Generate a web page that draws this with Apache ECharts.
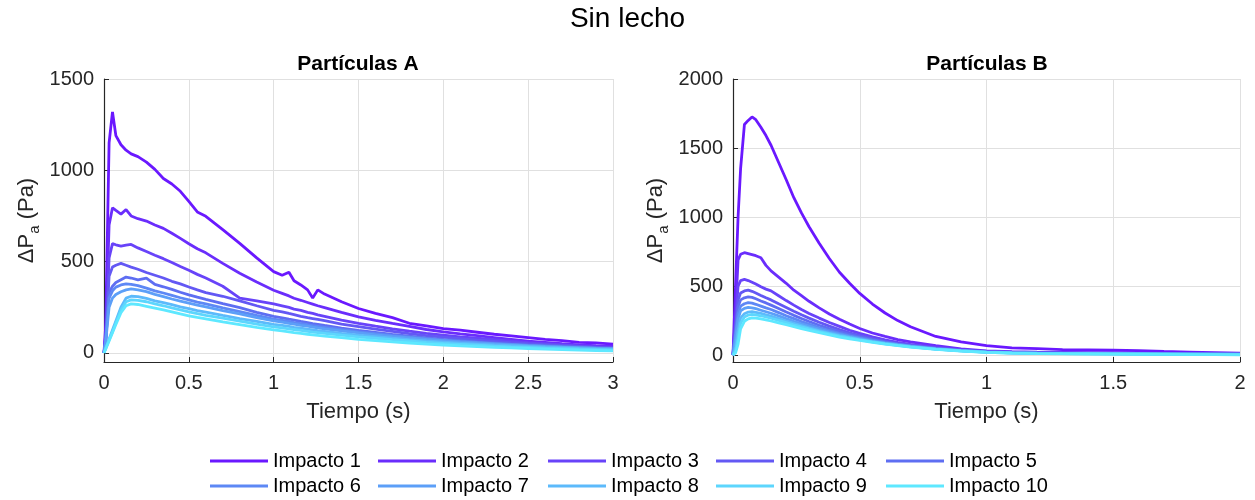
<!DOCTYPE html>
<html>
<head>
<meta charset="utf-8">
<script src="https://cdn.jsdelivr.net/npm/echarts@6/dist/echarts.min.js"></script>
<style>
  html, body { margin: 0; padding: 0; background: #fff; }
  #chart { width: 1255px; height: 500px; }
</style>
</head>
<body>
<div id="chart"></div>
<script>
// Pressure drop ΔP_a (Pa) after each impact, sampled over time (s).

// ---- Partículas A ----
const tiempoA = [0, 0.01, 0.03, 0.05, 0.07, 0.1, 0.13, 0.16, 0.2, 0.25, 0.3, 0.35, 0.4, 0.45, 0.5, 0.55, 0.6, 0.7, 0.8, 0.9,
  1.0, 1.05, 1.09, 1.12, 1.16, 1.2, 1.23, 1.26, 1.3, 1.4, 1.5, 1.6, 1.7, 1.8, 1.9, 2.0, 2.1, 2.2, 2.3, 2.4, 2.5, 2.6, 2.7, 2.8, 2.9, 3.0];
const impactoA1 = [0, 150, 1150, 1320, 1190, 1140, 1110, 1090, 1075, 1045, 1005, 955, 925, 885, 830, 772, 748, 675, 600, 520,
  445, 425, 442, 395, 372, 345, 300, 345, 322, 280, 243, 216, 193, 162, 148, 133, 124, 113, 102, 93, 84, 74, 67, 58, 55, 48];
const impactoA2 = [0, 100, 700, 795, 780, 760, 785, 750, 735, 722, 700, 682, 655, 627, 598, 570, 548, 490, 436, 388,
  343, 326, 312, 299, 288, 276, 267, 258, 248, 222, 197, 178, 161, 145, 128, 115, 104, 94, 84, 74, 64, 57, 50, 44, 39, 35];
const impactoA3 = [0, 80, 520, 598, 592, 585, 590, 594, 575, 555, 535, 516, 495, 473, 452, 430, 410, 365, 300, 285,
  268, 258, 249, 240, 233, 222, 216, 208, 200, 180, 161, 146, 132, 119, 107, 97, 88, 80, 72, 64, 56, 50, 44, 38, 33, 28];
const impactoA4 = [0, 60, 420, 470, 480, 490, 480, 470, 458, 440, 425, 410, 392, 378, 361, 345, 330, 310, 285, 258,
  233, 225, 216, 210, 200, 193, 188, 183, 176, 158, 144, 130, 118, 105, 95, 86, 78, 70, 63, 56, 50, 45, 40, 35, 30, 27];
const impactoA5 = [0, 60, 330, 365, 385, 400, 415, 410, 400, 410, 375, 362, 348, 332, 318, 305, 293, 270, 248, 222,
  200, 192, 185, 180, 172, 166, 160, 156, 150, 136, 123, 112, 101, 91, 82, 74, 67, 60, 54, 48, 43, 39, 35, 31, 27, 24];
const impactoA6 = [0, 80, 300, 340, 360, 372, 378, 375, 368, 355, 340, 328, 315, 302, 290, 278, 268, 246, 226, 205,
  185, 178, 172, 166, 160, 154, 149, 145, 140, 127, 115, 105, 95, 86, 78, 70, 63, 57, 51, 46, 41, 37, 33, 29, 26, 23];
const impactoA7 = [0, 60, 250, 300, 320, 335, 345, 350, 345, 335, 320, 308, 295, 283, 272, 262, 252, 232, 213, 193,
  175, 168, 162, 157, 151, 146, 141, 137, 132, 120, 109, 99, 90, 82, 74, 67, 60, 54, 49, 44, 39, 35, 31, 28, 25, 22];
const impactoA8 = [0, 25, 75, 125, 175, 250, 300, 310, 308, 298, 285, 275, 264, 252, 242, 232, 223, 205, 188, 172,
  156, 150, 145, 140, 135, 130, 126, 122, 118, 107, 97, 89, 80, 72, 65, 59, 53, 48, 43, 39, 35, 31, 28, 25, 22, 20];
const impactoA9 = [0, 25, 70, 115, 165, 235, 280, 290, 288, 280, 268, 258, 246, 235, 224, 215, 206, 190, 174, 158,
  143, 137, 132, 128, 123, 118, 114, 111, 107, 97, 88, 80, 72, 65, 58, 52, 47, 42, 37, 33, 30, 26, 23, 20, 18, 15];
const impactoA10 = [0, 20, 65, 110, 155, 220, 258, 268, 265, 255, 245, 235, 224, 213, 203, 194, 186, 170, 155, 140,
  126, 120, 115, 111, 107, 102, 99, 96, 92, 83, 74, 67, 60, 54, 48, 43, 38, 34, 30, 27, 24, 21, 18, 15, 13, 11];

// ---- Partículas B ----
const tiempoB = [0, 0.01, 0.02, 0.03, 0.045, 0.06, 0.075, 0.09, 0.11, 0.13, 0.15, 0.18, 0.21, 0.24, 0.27, 0.3, 0.34, 0.38, 0.42,
  0.46, 0.5, 0.55, 0.6, 0.65, 0.7, 0.8, 0.9, 1.0, 1.1, 1.2, 1.3, 1.4, 1.5, 1.6, 1.7, 1.8, 1.9, 2.0];
const impactoB1 = [0, 500, 1000, 1350, 1670, 1700, 1725, 1705, 1650, 1590, 1520, 1395, 1270, 1140, 1030, 930, 810, 700, 600,
  520, 447, 370, 305, 250, 205, 135, 95, 68, 52, 47, 40, 38, 35, 32, 26, 22, 18, 14];
const impactoB2 = [0, 300, 690, 730, 742, 735, 728, 720, 705, 650, 610, 565, 520, 470, 430, 390, 342, 298, 260,
  225, 193, 160, 135, 112, 95, 68, 45, 30, 25, 22, 20, 18, 16, 15, 13, 12, 11, 10];
const impactoB3 = [0, 250, 500, 540, 548, 540, 528, 515, 495, 478, 465, 430, 395, 362, 330, 302, 268, 236, 208,
  180, 157, 132, 110, 92, 78, 55, 38, 26, 22, 19, 17, 15, 14, 13, 12, 11, 10, 9];
const impactoB4 = [0, 200, 400, 450, 465, 470, 462, 450, 432, 415, 400, 372, 345, 318, 292, 268, 238, 210, 185,
  162, 142, 120, 100, 85, 72, 50, 35, 24, 20, 17, 15, 14, 13, 12, 11, 10, 9, 8];
const impactoB5 = [0, 180, 350, 400, 415, 422, 418, 408, 392, 378, 362, 338, 312, 288, 265, 243, 216, 192, 170,
  150, 132, 112, 95, 80, 68, 48, 34, 23, 19, 16, 14, 13, 12, 11, 10, 9, 8, 7];
const impactoB6 = [0, 150, 300, 355, 372, 380, 376, 368, 355, 342, 330, 308, 285, 264, 243, 224, 200, 178, 158,
  140, 124, 106, 90, 77, 65, 46, 33, 23, 18, 15, 13, 12, 11, 10, 9, 8, 7, 6];
const impactoB7 = [0, 120, 260, 320, 338, 345, 342, 336, 325, 314, 303, 284, 264, 245, 227, 210, 188, 168, 150,
  134, 119, 102, 87, 75, 64, 45, 32, 22, 17, 14, 12, 11, 10, 9, 8, 7, 6, 5];
const impactoB8 = [0, 60, 180, 270, 300, 312, 315, 310, 302, 292, 282, 265, 247, 230, 214, 198, 178, 160, 143,
  128, 114, 98, 84, 72, 62, 44, 31, 21, 16, 13, 11, 10, 9, 8, 7, 6, 5, 4];
const impactoB9 = [0, 30, 120, 230, 275, 290, 295, 292, 285, 276, 267, 252, 236, 220, 205, 190, 171, 154, 138,
  124, 111, 96, 82, 70, 60, 43, 30, 20, 15, 12, 10, 9, 8, 7, 6, 5, 4, 3];
const impactoB10 = [0, 15, 80, 190, 245, 262, 270, 268, 262, 255, 247, 234, 220, 206, 192, 179, 162, 146, 131,
  118, 106, 92, 79, 68, 58, 42, 29, 19, 14, 11, 9, 8, 7, 6, 5, 4, 3, 2];

const impactoNombres = ['Impacto 1', 'Impacto 2', 'Impacto 3', 'Impacto 4', 'Impacto 5',
  'Impacto 6', 'Impacto 7', 'Impacto 8', 'Impacto 9', 'Impacto 10'];
const ticksXA = [0, 0.5, 1, 1.5, 2, 2.5, 3];
const ticksXB = [0, 0.5, 1, 1.5, 2];
const ticksYA = [0, 500, 1000, 1500];
const ticksYB = [0, 500, 1000, 1500, 2000];

// violet -> cyan ramp, one colour per impact
const palette = ['#6a18ff', '#6a2dfc', '#6843f9', '#6358f4', '#5e6ef2',
  '#5d88f5', '#5c9ff8', '#5cbafb', '#5dd6fd', '#5ee8ff'];

const seriesA = [impactoA1, impactoA2, impactoA3, impactoA4, impactoA5, impactoA6, impactoA7, impactoA8, impactoA9, impactoA10];
const seriesB = [impactoB1, impactoB2, impactoB3, impactoB4, impactoB5, impactoB6, impactoB7, impactoB8, impactoB9, impactoB10];

const FONT = 'Liberation Sans, Arial, Helvetica, sans-serif';
const AX = '#262626';
const GRIDC = '#e0e0e0';

function lineSeries(name, times, values, idx, color) {
  return {
    type: 'line', name: name,
    xAxisIndex: idx, yAxisIndex: idx,
    data: times.map((t, i) => [t, values[i]]),
    symbol: 'none', showSymbol: false,
    lineStyle: { width: 2.8, color: color },
    itemStyle: { color: color },
    emphasis: { disabled: true },
    animation: false
  };
}

function xAxis(idx, max, ticks) {
  return {
    type: 'value', gridIndex: idx, min: 0, max: max, interval: 0.5,
    name: 'Tiempo (s)', nameLocation: 'middle', nameGap: 39,
    nameTextStyle: { fontFamily: FONT, fontSize: 22, color: AX },
    axisLine: { show: true, onZero: false, lineStyle: { color: AX, width: 1.2 } },
    axisTick: { show: true, inside: true, length: 5, customValues: ticks, lineStyle: { color: AX } },
    axisLabel: { fontFamily: FONT, fontSize: 20, color: AX, margin: 11, customValues: ticks,
      formatter: v => String(v) },
    splitLine: { show: true, lineStyle: { color: GRIDC, width: 1 } }
  };
}

function yAxis(idx, max, ticks) {
  return {
    type: 'value', gridIndex: idx, min: -50, max: max,
    name: '{m|ΔP}{s|a}{m| (Pa)}', nameLocation: 'middle', nameGap: 62, nameRotate: 90,
    nameTextStyle: {
      fontFamily: FONT, color: AX,
      rich: {
        m: { fontFamily: FONT, fontSize: 22, color: AX, lineHeight: 30, verticalAlign: 'middle' },
        s: { fontFamily: FONT, fontSize: 15, color: AX, lineHeight: 12, verticalAlign: 'bottom' }
      }
    },
    axisLine: { show: true, onZero: false, lineStyle: { color: AX, width: 1.2 } },
    axisTick: { show: true, inside: true, length: 5, customValues: ticks, lineStyle: { color: AX } },
    axisLabel: { fontFamily: FONT, fontSize: 20, color: AX, margin: 10, customValues: ticks,
      formatter: v => String(v) },
    splitLine: { show: true, lineStyle: { color: GRIDC, width: 1 } }
  };
}

const series = [];
seriesA.forEach((v, i) => series.push(lineSeries(impactoNombres[i], tiempoA, v, 0, palette[i])));
seriesB.forEach((v, i) => series.push(lineSeries(impactoNombres[i], tiempoB, v, 1, palette[i])));

// legend laid out as 5 columns x 2 rows, plain line swatches
const legendCols = [210, 378, 548, 716, 886];
const legends = legendCols.map((x, c) => ({
  orient: 'vertical', left: x, top: 451, padding: 0,
  icon: 'rect', itemWidth: 58, itemHeight: 3, itemGap: 5,
  selectedMode: false,
  data: [impactoNombres[c], impactoNombres[c + 5]],
  textStyle: { fontFamily: FONT, fontSize: 20, color: '#000', lineHeight: 20 }
}));

const chart = echarts.init(document.getElementById('chart'), null, { renderer: 'canvas' });
chart.setOption({
  animation: false,
  backgroundColor: '#fff',
  title: [
    { text: 'Sin lecho', left: 'center', top: 5, padding: 0,
      textStyle: { fontFamily: FONT, fontSize: 28, fontWeight: 'normal', color: '#000' } },
    { text: 'Partículas A', left: 358, textAlign: 'center', top: 54, padding: 0,
      textStyle: { fontFamily: FONT, fontSize: 21, fontWeight: 'bold', color: '#000' } },
    { text: 'Partículas B', left: 987, textAlign: 'center', top: 54, padding: 0,
      textStyle: { fontFamily: FONT, fontSize: 21, fontWeight: 'bold', color: '#000' } }
  ],
  grid: [
    { left: 104, top: 79, width: 509, height: 283 },
    { left: 733, top: 79, width: 507, height: 283 }
  ],
  xAxis: [xAxis(0, 3, ticksXA), xAxis(1, 2, ticksXB)],
  yAxis: [yAxis(0, 1500, ticksYA), yAxis(1, 2000, ticksYB)],
  legend: legends,
  series: series
});
</script>
</body>
</html>
